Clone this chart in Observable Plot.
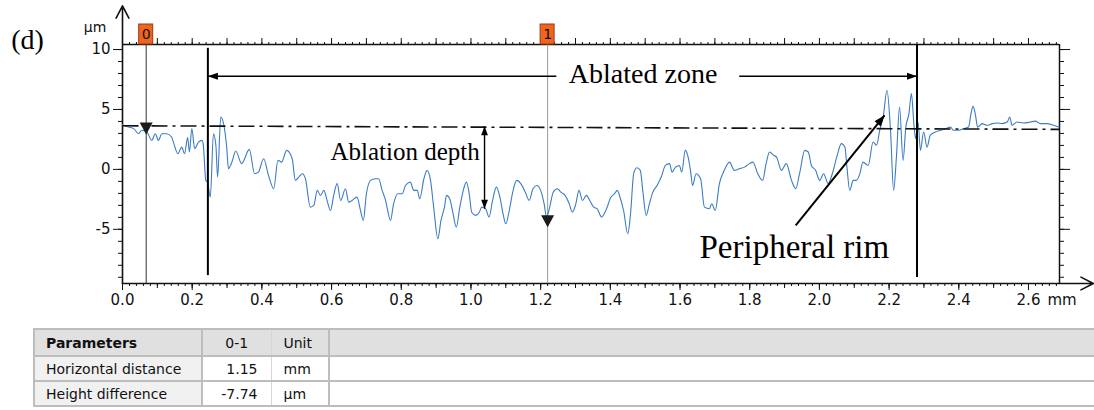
<!DOCTYPE html>
<html><head><meta charset="utf-8">
<script src="https://cdn.jsdelivr.net/npm/d3@7"></script>
<script src="https://cdn.jsdelivr.net/npm/@observablehq/plot@0.6"></script>
<style>
body{margin:0;background:#fff;width:1094px;height:410px;overflow:hidden;position:relative}
#chart{position:absolute;left:0;top:0}
#tbl{position:absolute;left:33px;top:328px;border-collapse:collapse;table-layout:fixed;width:1063px;font-family:"DejaVu Sans";font-size:14px;color:#111}
#tbl td{border:2px solid #bdbdbd;padding:0;white-space:nowrap;overflow:hidden}
#tbl tr.h td{background:#e0e0e0;height:25px}
#tbl tr.r td{height:23px;background:#fff}
#tbl td.c1{padding-left:11px}
#tbl tr.r td.c1{background:#f1f1f1}
#tbl td.c2{text-align:right;padding-right:13px}
#tbl tr.h td.c2{text-align:center;padding-right:0}
#tbl td.c3{padding-left:12px}
#tbl td.v{border-left:1px solid #d6d6d6;border-right:1px solid #d6d6d6}
</style></head><body>
<div id="chart"></div>
<table id="tbl"></table>
<script>
// ---- profile data (mm, µm) ----
const xs = [0,0.017,0.032,0.046,0.055,0.070,0.084,0.094,0.103,0.113,0.127,0.141,0.146,0.159,0.170,0.178,0.187,0.192,0.199,0.207,0.218,0.228,0.232,0.239,0.244,0.252,0.261,0.268,0.273,0.282,0.290,0.299,0.304,0.314,0.325,0.342,0.364,0.379,0.390,0.405,0.419,0.434,0.446,0.457,0.471,
0.487,0.496,0.506,0.516,0.525,0.539,0.549,0.559,0.568,0.578,0.587,0.597,0.606,0.616,0.626,0.640,0.649,0.659,0.673,0.683,0.691,0.700,0.712,0.726,0.735,0.745,0.755,0.761,0.769,0.778,0.790,0.803,0.812,0.826,0.836,0.846,0.853,0.865,0.874,0.884,0.893,0.905,0.914,0.924,
0.930,0.939,0.947,0.958,0.968,0.978,0.987,0.995,1.002,1.014,1.024,1.031,1.042,1.052,1.062,1.073,1.083,1.092,1.100,1.110,1.119,1.131,1.143,1.156,1.167,1.178,1.189,1.200,1.210,1.217,1.226,1.236,1.248,1.258,1.270,1.282,1.291,1.301,1.310,1.320,1.331,1.341,1.352,1.362,1.375,1.387,
1.402,1.412,1.420,1.429,1.438,1.450,1.458,1.467,1.476,1.486,1.493,1.503,1.512,1.522,1.534,1.546,1.558,1.570,1.577,1.587,1.598,1.605,1.615,1.622,1.630,1.636,1.646,1.659,1.670,1.684,1.691,1.701,1.713,1.727,1.742,1.756,1.770,1.785,1.799,1.809,1.823,1.837,1.847,1.857,
1.869,1.877,1.891,1.905,1.920,1.932,1.943,1.958,1.968,1.977,1.989,2.001,2.012,2.025,2.037,2.051,2.063,2.073,2.079,2.087,2.097,2.106,2.116,2.125,2.140,2.154,2.164,2.173,2.183,2.194,2.204,2.213,2.221,2.230,2.240,2.248,2.257,2.264,2.271,2.276,2.283,2.290,2.299,2.309,2.318,2.333,2.347,2.362,2.376,2.385,2.400,2.414,2.428,2.435,2.441,2.448,2.454,2.467,2.481,2.496,2.510,2.524,2.539,2.546,2.553,2.567,2.586,2.605,2.620,2.634,2.653,2.672,2.687];
const ys = [3.73,3.53,3.40,2.98,3.26,3.12,2.42,2.98,2.42,2.98,2.98,2.70,2.28,1.31,1.86,1.31,2.65,1.45,3.40,1.73,2.28,2.42,2.01,-0.92,-1.06,-2.31,2.98,2.01,-0.64,4.37,3.82,1.86,0.06,0.61,1.53,0.48,1.67,-0.36,-0.23,0.89,-0.50,-1.61,0.75,0.61,1.59,
0.89,-0.92,-0.64,-0.36,-0.78,-3.15,-3.01,-1.75,-2.17,-1.75,-2.59,-3.43,-2.17,-1.19,-2.59,-1.61,-2.73,-2.59,-2.31,-3.43,-4.26,-2.03,-0.92,-0.78,-0.78,-1.75,-2.59,-3.43,-4.26,-2.87,-2.03,-2.03,-1.34,-1.06,-1.75,-1.75,-2.45,-0.78,-0.08,-0.92,-3.15,-5.79,-4.26,-3.15,
-2.17,-2.45,-3.43,-4.82,-3.15,-1.75,-1.06,-2.03,-3.57,-3.84,-3.57,-3.15,-3.28,-3.98,-2.59,-1.48,-2.31,-3.70,-4.54,-3.43,-2.03,-0.92,-1.19,-1.90,-2.59,-1.61,-1.34,-1.75,-2.87,-3.98,-3.15,-1.90,-1.61,-1.90,-2.17,-2.87,-3.57,-2.87,-1.75,-2.59,-2.17,-2.59,-3.15,-3.28,-3.98,-3.43,
-2.31,-2.03,-1.75,-2.45,-3.43,-5.37,-3.70,-0.36,0.14,-0.08,-1.75,-3.84,-2.87,-1.90,-1.34,-0.64,0.33,0.48,-0.23,0.19,0.33,-0.23,1.59,1.17,-0.08,-1.34,-0.36,-0.78,-3.15,-3.28,-2.87,-3.43,-1.19,-0.08,0.61,-0.08,0.06,0.19,0.48,0.61,-0.36,-0.92,0.48,1.45,
1.17,1.03,-0.08,0.48,-0.92,-1.61,-0.36,1.59,1.45,0.33,-0.08,-0.92,-0.36,-1.19,-0.36,1.17,2.15,1.86,0.19,-1.75,-0.92,-0.92,-0.36,0.61,0.33,2.28,2.01,3.26,4.37,6.60,3.26,-1.75,1.03,5.20,0.75,3.53,4.65,6.32,3.82,2.56,3.95,1.59,3.12,1.86,2.84,3.12,3.26,3.40,3.53,3.26,3.26,3.40,3.53,4.65,5.26,4.51,3.53,3.82,3.68,3.82,3.87,3.82,3.95,4.37,3.68,3.95,3.87,3.95,4.03,3.82,3.82,3.68,3.53];
if (xs.length !== ys.length) throw new Error("length mismatch " + xs.length + " " + ys.length);

// ---- axes ----
const xTicks = [0,0.2,0.4,0.6,0.8,1.0,1.2,1.4,1.6,1.8,2.0,2.2,2.4,2.6];
const xTickLabels = ["0.0","0.2","0.4","0.6","0.8","1.0","1.2","1.4","1.6","1.8","2.0","2.2","2.4","2.6"];
const yTicks = [-5,0,5,10];
const yTickLabels = ["-5","0","5","10"];
const xMax = 2.689, yMin = -9.52, yMax = 10.42;

// ---- markers / cursors ----
const markerX = [0.068, 1.22];
const markerY = [2.92, -4.82];
const markerLabels = ["0","1"];

// ---- table ----
const tableHeader = ["Parameters","0-1","Unit"];
const paramNames = ["Horizontal distance","Height difference"];
const paramValues = ["1.15","-7.74"];
const paramUnits = ["mm","µm"];

function head(deg, len = 10, hw = 3.6) {
  const a = deg * Math.PI / 180, c = Math.cos(a), s = Math.sin(a);
  const pts = [[0,0],[hw,len],[-hw,len]].map(([px,py]) => [px*c - py*s, px*s + py*c]);
  return {draw(ctx){ctx.moveTo(pts[0][0],pts[0][1]);ctx.lineTo(pts[1][0],pts[1][1]);ctx.lineTo(pts[2][0],pts[2][1]);ctx.closePath();}};
}
const triDown = {draw(ctx){ctx.moveTo(0,0);ctx.lineTo(-6.5,-12);ctx.lineTo(6.5,-12);ctx.closePath();}};

const profile = xs.map((x,i) => ({x, y: ys[i]}));
const serif = "Liberation Serif";
const minorX = d3.range(0, 2.681, 0.02);
const midX = d3.range(0, 2.681, 0.1);
const minorY = d3.range(-9, 11, 1);

const chart = Plot.plot({
  width: 1094, height: 328,
  marginLeft: 122, marginRight: 35, marginTop: 44, marginBottom: 45,
  x: {domain: [0, xMax]},
  y: {domain: [yMin, yMax]},
  style: {fontFamily: "DejaVu Sans", fontSize: "15px", background: "white", color: "#111"},
  marks: [
    // ticks
    Plot.axisX({ticks: minorX, tickSize: 3, tickFormat: () => "", label: null}),
    Plot.axisX({ticks: midX, tickSize: 5, tickFormat: () => "", label: null}),
    Plot.axisX({ticks: xTicks, tickSize: 7, tickPadding: 4, fontSize: 15, tickFormat: d => xTickLabels[xTicks.indexOf(d)], label: null}),
    Plot.axisX({anchor: "top", ticks: minorX, tickSize: 3, tickFormat: () => "", label: null}),
    Plot.axisX({anchor: "top", ticks: midX, tickSize: 7, tickFormat: () => "", label: null}),
    Plot.axisY({ticks: minorY, tickSize: 4, tickFormat: () => "", label: null}),
    Plot.axisY({ticks: yTicks, tickSize: 9, tickPadding: 3, fontSize: 15, tickFormat: d => yTickLabels[yTicks.indexOf(d)], label: null}),
    Plot.axisY({anchor: "right", ticks: minorY, tickSize: 4, tickFormat: () => "", label: null}),
    Plot.axisY({anchor: "right", ticks: yTicks, tickSize: 10, tickFormat: () => "", label: null}),
    Plot.text(["mm"], {x: 2.6, y: yMin, dx: 19, dy: 11, text: d => d, textAnchor: "start", lineAnchor: "top", fontSize: 15}),
    Plot.text(["µm"], {x: 0, y: 11.86, dx: -27.5, text: d => d, fontSize: 14}),
    // frame
    Plot.ruleY([yMax], {x1: 0, x2: xMax, stroke: "#111", strokeWidth: 1.5}),
    Plot.ruleX([xMax], {y1: yMin, y2: yMax, stroke: "#111", strokeWidth: 1.5}),
    Plot.arrow([{x1: 0, y1: yMin, x2: 2.786, y2: yMin}], {x1: "x1", y1: "y1", x2: "x2", y2: "y2", stroke: "#111", strokeWidth: 1.6, headLength: 13, headAngle: 55}),
    Plot.arrow([{x1: 0, y1: yMin, x2: 0, y2: 13.65}], {x1: "x1", y1: "y1", x2: "x2", y2: "y2", stroke: "#111", strokeWidth: 1.6, headLength: 13, headAngle: 55}),
    // cursors
    Plot.ruleX([markerX[0]], {y1: yMin, y2: yMax, stroke: "#333", strokeWidth: 1}),
    Plot.ruleX([markerX[1]], {y1: yMin, y2: yMax, stroke: "#999", strokeWidth: 1}),
    // profile
    Plot.line(profile, {x: "x", y: "y", curve: "monotone-x", stroke: "#3b7cc4", strokeWidth: 1.1}),
    // reference dash-dot line
    Plot.link([{x1: 0, y1: 3.64, x2: xMax, y2: 3.34}], {x1: "x1", y1: "y1", x2: "x2", y2: "y2", stroke: "#111", strokeWidth: 1.6, strokeDasharray: "16,5,3,5"}),
    // cursor boxes & triangles
    Plot.rect(markerX, {x1: d => d, x2: d => d, y1: yMax, y2: yMax, insetLeft: -7, insetRight: -7, insetTop: -20, fill: "#f0641e", stroke: "#9a3c10"}),
    Plot.text(markerX, {x: d => d, y: yMax, dy: -10, text: (d, i) => markerLabels[i], fontSize: 14, fill: "#111"}),
    Plot.dot(markerX.map((x, i) => ({x, y: markerY[i]})), {x: "x", y: "y", symbol: triDown, r: 6, fill: "#1a1a1a", stroke: "none"}),
    // ablated zone boundaries
    Plot.ruleX([{x: 0.245, y1: 10.1, y2: -8.86}, {x: 2.28, y1: 10.36, y2: -9.02}], {x: "x", y1: "y1", y2: "y2", stroke: "#000", strokeWidth: 2}),
    Plot.link([{x1: 0.245, x2: 1.245}, {x1: 1.77, x2: 2.28}], {x1: "x1", x2: "x2", y1: 7.77, y2: 7.77, stroke: "#000", strokeWidth: 1.5}),
    Plot.dot([{x: 0.245, y: 7.77}], {x: "x", y: "y", symbol: head(-90), fill: "#000", stroke: "none"}),
    Plot.dot([{x: 2.28, y: 7.77}], {x: "x", y: "y", symbol: head(90), fill: "#000", stroke: "none"}),
    Plot.text(["Ablated zone"], {x: 1.494, y: 7.94, text: d => d, fontFamily: serif, fontSize: 28, fill: "#000"}),
    // ablation depth
    Plot.link([{x1: 1.039, y1: 3.59, x2: 1.039, y2: -3.28}], {x1: "x1", y1: "y1", x2: "x2", y2: "y2", stroke: "#000", strokeWidth: 1.4}),
    Plot.dot([{x: 1.039, y: 3.59}], {x: "x", y: "y", symbol: head(0, 9, 3.4), fill: "#000", stroke: "none"}),
    Plot.dot([{x: 1.039, y: -3.28}], {x: "x", y: "y", symbol: head(180, 9, 3.4), fill: "#000", stroke: "none"}),
    Plot.text(["Ablation depth"], {x: 0.811, y: 1.42, text: d => d, fontFamily: serif, fontSize: 25, fill: "#000"}),
    // peripheral rim
    Plot.link([{x1: 1.932, y1: -4.68, x2: 2.187, y2: 4.51}], {x1: "x1", y1: "y1", x2: "x2", y2: "y2", stroke: "#000", strokeWidth: 2}),
    Plot.dot([{x: 2.187, y: 4.51}], {x: "x", y: "y", symbol: head(39, 11, 4), fill: "#000", stroke: "none"}),
    Plot.text(["Peripheral rim"], {x: 1.928, y: -6.55, text: d => d, fontFamily: serif, fontSize: 33, fill: "#000"}),
    // panel label
    Plot.text(["(d)"], {frameAnchor: "top-left", dx: -95, dy: -4, text: d => d, textAnchor: "middle", lineAnchor: "middle", fontFamily: serif, fontSize: 28, fill: "#000"})
  ]
});
document.getElementById("chart").appendChild(chart);

// table
const tbl = document.getElementById("tbl");
tbl.innerHTML = `<colgroup><col style="width:168px"><col style="width:69px"><col style="width:58px"><col></colgroup>`;
const hr = document.createElement("tr"); hr.className = "h";
hr.innerHTML = `<td class="c1"><b>${tableHeader[0]}</b></td><td class="c2 v">${tableHeader[1]}</td><td class="c3 v">${tableHeader[2]}</td><td></td>`;
tbl.appendChild(hr);
paramNames.forEach((n, i) => {
  const tr = document.createElement("tr"); tr.className = "r";
  tr.innerHTML = `<td class="c1">${n}</td><td class="c2 v">${paramValues[i]}</td><td class="c3 v">${paramUnits[i]}</td><td></td>`;
  tbl.appendChild(tr);
});
</script>
</body></html>
